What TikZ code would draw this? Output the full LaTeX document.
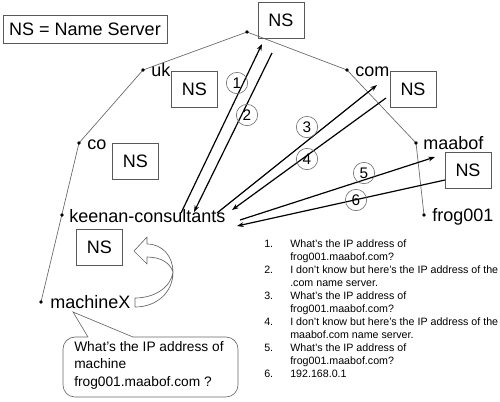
\documentclass[tikz,border=0pt]{standalone}
\usepackage{fontspec}
\setmainfont{Liberation Sans}
\usetikzlibrary{arrows.meta,calc}

\begin{document}
\begin{tikzpicture}[x=0.75pt, y=-0.75pt,
    ns/.style={draw=black!65, line width=0.6pt, minimum width=34.5pt, minimum height=27pt, inner sep=0pt, font=\fontsize{13.5}{16}\selectfont},
    lbl/.style={anchor=base west, inner sep=0pt, font=\fontsize{13.5}{16}\selectfont},
    num/.style={circle, draw=black!55, line width=0.5pt, minimum size=16pt, inner sep=0pt, font=\fontsize{11.5}{14}\selectfont},
    msg/.style={-{Stealth[length=5pt, width=3.6pt]}, line width=0.9pt},
    tree/.style={black!60, line width=0.5pt}]

    \useasboundingbox (0,0) rectangle (500,401);

    % legend
    \node[ns, minimum width=123pt, minimum height=21pt] (key) at (85,29) {NS = Name Server};

    % points of the name tree
    \coordinate (root) at (247,32);
    \coordinate (uk) at (143,70);
    \coordinate (co) at (79,143);
    \coordinate (keenan) at (62,215);
    \coordinate (machine) at (41,302);
    \coordinate (com) at (347,70);
    \coordinate (maabof) at (416,143);
    \coordinate (frog) at (424,215);

    % tree lines
    \draw[tree] (co) -- (uk) -- (root) -- (com) -- (maabof) -- (frog);
    \draw[tree] (co) -- (machine);

    % dots and names
    \foreach \p in {root,uk,co,keenan,machine,com,maabof,frog}
        \fill (\p) circle (1.9);
    \node[lbl] (ukl) at ($(uk)+(8,6)$) {uk};
    \node[lbl] (col) at ($(co)+(8,6)$) {co};
    \node[lbl] (keenanl) at ($(keenan)+(7,7)$) {keenan-consultants};
    \node[lbl] (machinel) at ($(machine)+(9,6)$) {machineX};
    \node[lbl] (coml) at ($(com)+(8,6)$) {com};
    \node[lbl] (maabofl) at ($(maabof)+(7,6)$) {maabof};
    \node[lbl] (frogl) at ($(frog)+(8,6)$) {frog001};

    % name servers
    \node[ns] (nsroot) at (281,20) {NS};
    \node[ns] (nsuk) at (194.5,89) {NS};
    \node[ns] (nsco) at (135.5,161.5) {NS};
    \node[ns] (nscom) at (413,89) {NS};
    \node[ns] (nsmaabof) at (468,170.5) {NS};
    \node[ns] (nskeenan) at (99.5,247.5) {NS};

    % ends of the queries and replies
    \coordinate (q1a) at (181,213);
    \coordinate (q1b) at (262,44);
    \coordinate (r2a) at (272,53);
    \coordinate (r2b) at (194,212);
    \coordinate (q3a) at (217,213);
    \coordinate (q3b) at (377,85);
    \coordinate (r4a) at (386,98);
    \coordinate (r4b) at (232,210);
    \coordinate (q5a) at (240,220);
    \coordinate (q5b) at (435,157);
    \coordinate (r6a) at (445,180);
    \coordinate (r6b) at (237,226);

    \draw[msg] (q1a) -- (q1b);
    \draw[msg] (r2a) -- (r2b);
    \draw[msg] (q3a) -- (q3b);
    \draw[msg] (r4a) -- (r4b);
    \draw[msg] (q5a) -- (q5b);
    \draw[msg] (r6a) -- (r6b);

    \node[num] (n1) at (237,83) {1};
    \node[num] (n2) at (247,115) {2};
    \node[num] (n3) at (307,127) {3};
    \node[num] (n4) at (307,159) {4};
    \node[num] (n5) at (364,173) {5};
    \node[num] (n6) at (356,200) {6};

    % curved arrow from machineX to its name server
    \draw[black!60, line width=0.5pt, fill=white, line join=round]
        (134,251) -- (147,237) -- (147,244)
        .. controls (163,244) and (173,257) .. (173,272)
        .. controls (173,293) and (156,307) .. (135,307) -- (135,298)
        .. controls (155,298) and (171,287) .. (173,272)
        .. controls (170,263) and (161,257) .. (147,257)
        -- (147,264) -- cycle;

    % speech bubble
    \draw[black!60, line width=0.5pt, rounded corners=9]
        (88,337) -- (63,337) -- (63,397) -- (238,397) -- (238,337) -- (133,337);
    \draw[black!60, line width=0.5pt] (88,337) -- (73,312) -- (133,337);
    \node[anchor=north west, inner sep=0pt, align=left,
          font=\fontsize{10.3}{13.1}\selectfont] (ask) at (74,341)
        {What's the IP address of\\machine\\frog001.maabof.com ?};

    % list of steps
    \node[anchor=north west, inner sep=0pt, font=\fontsize{8}{9.75}\selectfont] (steps) at (264,238) {%
        \begin{tabular}{@{}p{19.5pt}@{}l@{}}
        1. & What's the IP address of\\
           & frog001.maabof.com?\\
        2. & I don't know but here's the IP address of the\\
           & .com name server.\\
        3. & What's the IP address of\\
           & frog001.maabof.com?\\
        4. & I don't know but here's the IP address of the\\
           & maabof.com name server.\\
        5. & What's the IP address of\\
           & frog001.maabof.com?\\
        6. & 192.168.0.1
        \end{tabular}};

\end{tikzpicture}
\end{document}
